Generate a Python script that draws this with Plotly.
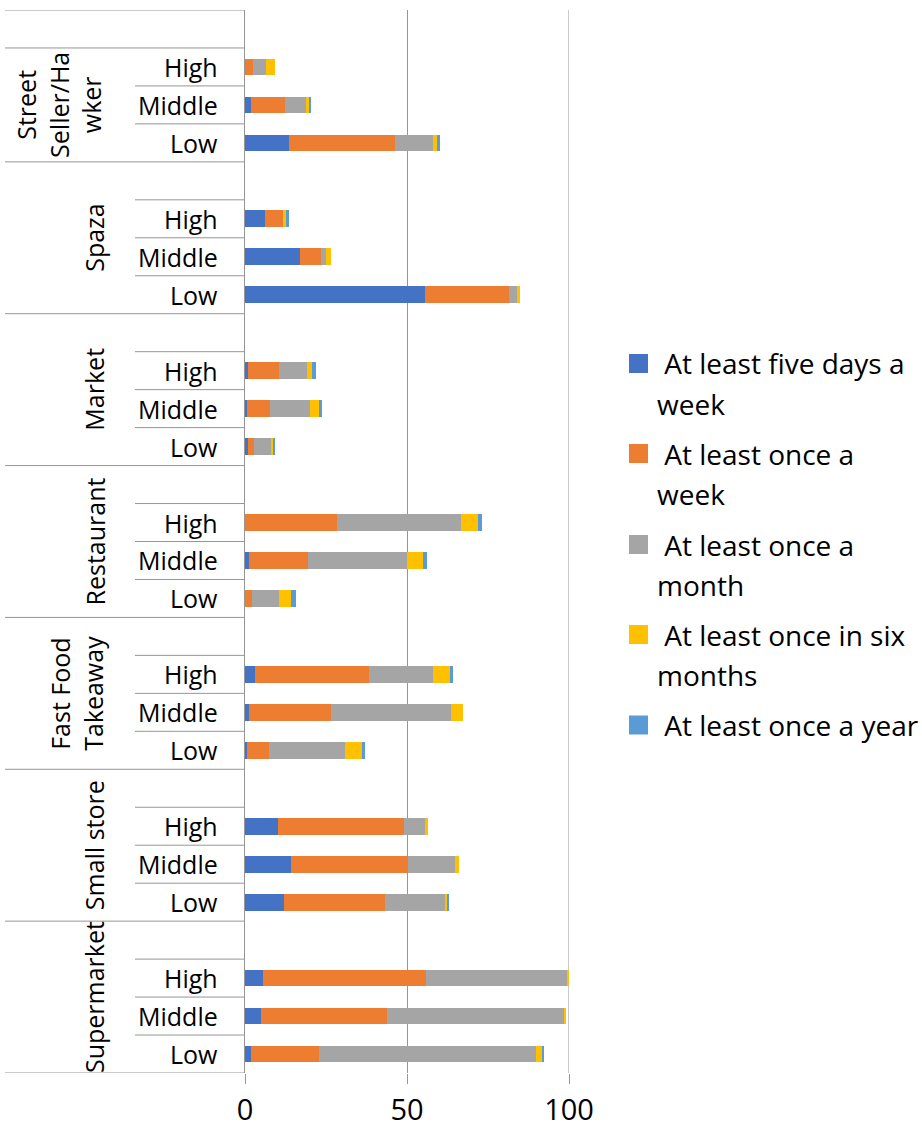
import plotly.graph_objects as go

# Outlet types (top to bottom) and income levels within each outlet
outlets = ["Street Seller/Hawker", "Spaza", "Market", "Restaurant",
           "Fast Food Takeaway", "Small store", "Supermarket"]
outlet_labels = ["Street<br>Seller/Ha<br>wker", "Spaza", "Market", "Restaurant",
                 "Fast Food<br>Takeaway", "Small store", "Supermarket"]
income_levels = ["High", "Middle", "Low"]

# Percentages per outlet/income (order: outlet by outlet, High, Middle, Low)
five_days = [0.0, 1.7, 13.5, 6.1, 16.9, 55.5, 0.8, 0.5, 0.8, 0.0, 1.2, 0.0,
             3.0, 1.1, 0.5, 10.1, 14.1, 11.9, 5.5, 4.8, 1.7]
once_week = [2.4, 10.5, 32.9, 5.6, 6.5, 25.9, 9.6, 7.1, 1.9, 28.3, 18.1, 2.1,
             35.2, 25.5, 6.8, 38.9, 36.1, 31.2, 50.3, 38.9, 21.0]
once_month = [4.0, 6.5, 11.5, 0.0, 1.5, 2.5, 8.6, 12.4, 5.2, 38.3, 30.6, 8.3,
              19.7, 36.9, 23.5, 6.5, 14.5, 18.5, 43.7, 55.0, 67.0]
six_months = [2.8, 1.2, 1.6, 0.9, 1.5, 0.9, 1.6, 2.7, 0.9, 5.2, 4.9, 3.7,
              5.3, 3.7, 5.2, 0.9, 1.2, 1.0, 0.5, 0.3, 2.2]
once_year = [0.0, 0.6, 0.6, 0.9, 0.0, 0.0, 1.2, 1.0, 0.6, 1.2, 1.3, 1.5,
             0.9, 0.0, 0.9, 0.0, 0.0, 0.3, 0.0, 0.0, 0.3]

series_names = ["At least five days a week", "At least once a week",
                "At least once a month", "At least once in six months",
                "At least once a year"]
legend_lines = [[" At least five days a", "week"],
                [" At least once a", "week"],
                [" At least once a", "month"],
                [" At least once in six", "months"],
                [" At least once a year"]]
series_values = [five_days, once_week, once_month, six_months, once_year]
colors = ["#4472C4", "#ED7D31", "#A5A5A5", "#FFC000", "#5B9BD5"]

FONT = "Open Sans"
GRID = "#969696"
W, H = 922, 1130
L, R, T, B = 245, 353, 10, 57
PW, PH = W - L - R, H - T - B
n_groups = len(outlets)
n_rows = n_groups * 4  # each outlet: blank row + three income rows


def px_x(px):
    return (px - L) / PW


def px_y(py):
    return (H - B - py) / PH


# numeric row position (0 = bottom) for each outlet/income bar
row_pos = []
for g in range(n_groups):
    top = n_rows - 1 - 4 * g
    for k in range(3):
        row_pos.append(top - 1 - k)

fig = go.Figure()
for name, vals, col in zip(series_names, series_values, colors):
    fig.add_trace(go.Bar(
        x=vals, y=row_pos, orientation="h", name=name,
        marker=dict(color=col, line=dict(width=0)), showlegend=False,
    ))

shapes = []
annotations = []
line_style = dict(color=GRID, width=1)

# gridline at the right end of the value axis
shapes.append(dict(type="line", xref="x", yref="paper", x0=100, x1=100,
                   y0=0, y1=1, line=line_style, layer="below"))

# horizontal separators of the category table
shapes.append(dict(type="line", xref="paper", yref="y", x0=px_x(5), x1=0,
                   y0=n_rows - 0.5, y1=n_rows - 0.5, line=line_style))
for g in range(n_groups):
    top = n_rows - 1 - 4 * g
    bottom = top - 3
    shapes.append(dict(type="line", xref="paper", yref="y", x0=px_x(5), x1=0,
                       y0=bottom - 0.5, y1=bottom - 0.5, line=line_style))
    for k in range(3):
        yb = top - k - 0.5
        full = (g == 0 and k == 0)
        shapes.append(dict(type="line", xref="paper", yref="y",
                           x0=px_x(5) if full else px_x(135), x1=0,
                           y0=yb, y1=yb, line=line_style))
    # outlet label (rotated), centred on its rows
    n_lines = outlet_labels[g].count("<br>") + 1
    cx = 94 - (n_lines - 1) * 17.5
    cy = (top - 2) if g == 0 else (top - 1.5)
    annotations.append(dict(text=outlet_labels[g], xref="paper", yref="y",
                            x=px_x(cx), y=cy, xanchor="center", yanchor="middle",
                            textangle=-90, showarrow=False, align="center",
                            font=dict(family=FONT, size=25, color="black")))
    for k, lvl in enumerate(income_levels):
        annotations.append(dict(text=lvl, xref="paper", yref="y",
                                x=px_x(220), y=top - 1 - k, xanchor="right",
                                yanchor="middle", showarrow=False,
                                font=dict(family=FONT, size=25, color="black")))

# legend: coloured squares with wrapped labels
item_top = [363.5, 453.5, 544.5, 634.5, 725.0]
for col, lines, yc in zip(colors, legend_lines, item_top):
    shapes.append(dict(type="rect", xref="paper", yref="paper",
                       x0=px_x(629), x1=px_x(648),
                       y0=px_y(yc + 9.5), y1=px_y(yc - 9.5),
                       fillcolor=col, line=dict(width=0)))
    for i, txt in enumerate(lines):
        annotations.append(dict(text=txt, xref="paper", yref="paper",
                                x=px_x(655), y=px_y(yc + 40 * i),
                                xanchor="left", yanchor="middle",
                                showarrow=False,
                                font=dict(family=FONT, size=28, color="black")))

fig.update_layout(
    width=W, height=H,
    margin=dict(l=L, r=R, t=T, b=B, pad=0, autoexpand=False),
    barmode="stack", bargap=0.56,
    plot_bgcolor="white", paper_bgcolor="white",
    showlegend=False,
    shapes=shapes, annotations=annotations,
    xaxis=dict(range=[0, 100], tickvals=[0, 50, 100], showgrid=True,
               gridcolor=GRID, gridwidth=1, zeroline=False,
               ticks="outside", ticklen=10, tickcolor=GRID, tickwidth=1,
               showline=False, fixedrange=True, automargin=False,
               ticklabelstandoff=1,
               tickfont=dict(family=FONT, size=29, color="black")),
    yaxis=dict(range=[-0.5, n_rows - 0.5], showticklabels=False,
               showgrid=False, zeroline=False, showline=True,
               linecolor=GRID, linewidth=1, ticks="", fixedrange=True,
               automargin=False),
)

fig.write_html("out.html")
